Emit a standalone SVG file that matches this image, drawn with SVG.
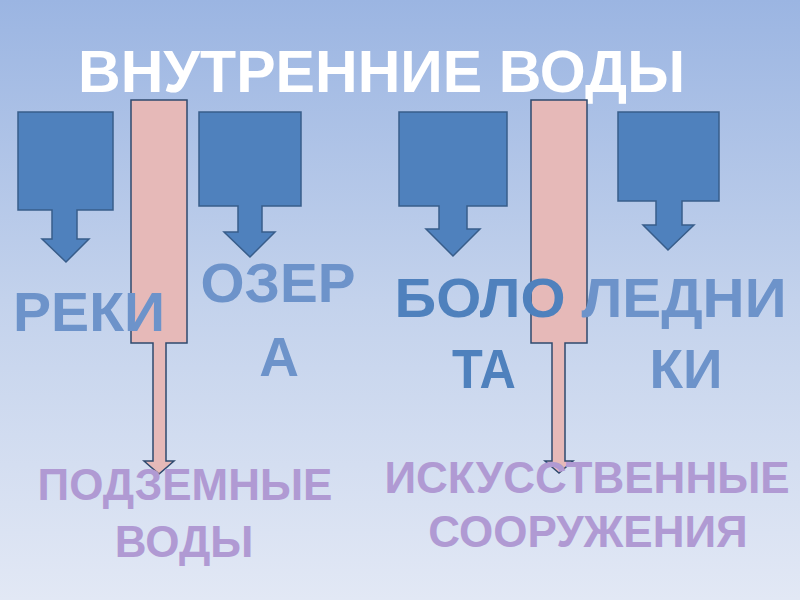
<svg xmlns="http://www.w3.org/2000/svg" width="800" height="600" viewBox="0 0 800 600">
  <defs>
    <linearGradient id="bg" x1="0" y1="0" x2="0" y2="1">
      <stop offset="0" stop-color="#9bb5e2"/>
      <stop offset="0.5" stop-color="#c3d2ec"/>
      <stop offset="1" stop-color="#e2e8f5"/>
    </linearGradient>
  </defs>
  <style>
    .blue { fill: #4f81bd; stroke: #385d8a; stroke-width: 1.5; }
    .pink { fill: #e6b9b8; stroke: #2f4a6e; stroke-width: 1.5; }
    text { font-family: "Liberation Sans", Arial, sans-serif; font-weight: bold; }
    .title { fill: #ffffff; font-size: 60px; }
    .lbl { font-size: 55px; text-anchor: middle; }
    .lt { fill: #6d93ca; }
    .dk { fill: #4f81bd; }
    .pur { fill: #b09ad3; font-size: 44px; text-anchor: middle; }
  </style>
  <rect width="800" height="600" fill="url(#bg)"/>

  <g id="title">
    <text class="title" x="78" y="92" textLength="607" lengthAdjust="spacingAndGlyphs">ВНУТРЕННИЕ ВОДЫ</text>
  </g>

  <g id="connectors">
    <path id="arrow-podzemnye" class="pink" d="M131,100 H187 V343 H166 V461 H174 L159,474 L144,461 H153 V343 H131 Z"/>
    <path id="arrow-iskusstvennye" class="pink" d="M531,100 H587 V343 H565 V461 H573 L559,473 L545,461 H552 V343 H531 Z"/>
  </g>

  <g id="node-reki">
    <path class="blue" d="M18,112 H113 V210 H77 V239 H89 L66,262 L42,239 H52 V210 H18 Z"/>
    <text class="lbl lt" x="89" y="331" textLength="152" lengthAdjust="spacingAndGlyphs">РЕКИ</text>
  </g>

  <g id="node-ozera">
    <path class="blue" d="M199,112 H301 V206 H262 V232 H275 L250,257 L224,232 H238 V206 H199 Z"/>
    <text class="lbl lt" x="278" y="302" textLength="155" lengthAdjust="spacingAndGlyphs">ОЗЕР</text>
    <text class="lbl lt" x="279" y="376">А</text>
  </g>

  <g id="node-bolota">
    <path class="blue" d="M399,112 H507 V206 H467 V229 H480 L453,256 L426,229 H439 V206 H399 Z"/>
    <text class="lbl dk" x="480" y="317" textLength="171" lengthAdjust="spacingAndGlyphs">БОЛО</text>
    <text class="lbl dk" x="484" y="388" textLength="64" lengthAdjust="spacingAndGlyphs">ТА</text>
  </g>

  <g id="node-ledniki">
    <path class="blue" d="M618,112 H719 V201 H682 V225 H694 L668,250 L643,225 H656 V201 H618 Z"/>
    <text class="lbl lt" x="684" y="317" textLength="205" lengthAdjust="spacingAndGlyphs">ЛЕДНИ</text>
    <text class="lbl lt" x="686" y="388" textLength="73" lengthAdjust="spacingAndGlyphs">КИ</text>
  </g>

  <g id="node-podzemnye">
    <text class="pur" x="185" y="500">ПОДЗЕМНЫЕ</text>
    <text class="pur" x="184" y="557">ВОДЫ</text>
  </g>

  <g id="node-iskusstvennye">
    <text class="pur" x="587" y="493">ИСКУССТВЕННЫЕ</text>
    <text class="pur" x="588" y="547">СООРУЖЕНИЯ</text>
  </g>
</svg>
